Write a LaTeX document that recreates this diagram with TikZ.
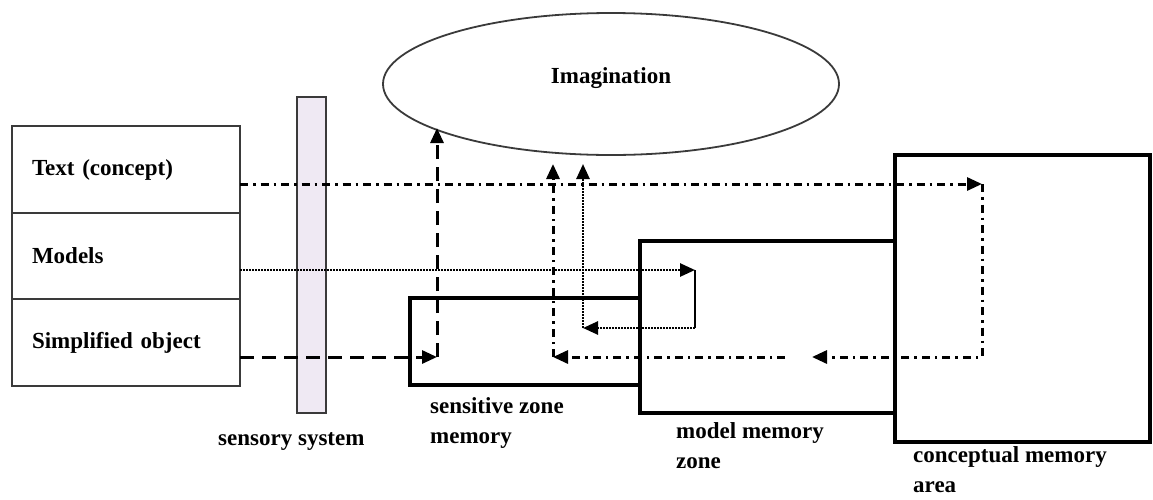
\documentclass[tikz,border=0pt]{standalone}
\usepackage{fontspec}
\setmainfont{Liberation Serif}
\usepackage{xcolor}
\usepackage{tikz}
\usetikzlibrary{shapes.geometric, arrows.meta, positioning}

\definecolor{barfill}{HTML}{EFE9F3}
\definecolor{edgegray}{HTML}{3A3A3A}

\begin{document}
\begin{tikzpicture}[
    x=1pt, y=-1pt,
    >={Triangle[length=15pt,width=13pt]},
    every node/.style={font=\bfseries\fontsize{23}{30}\selectfont},
    rowbox/.style={draw=edgegray, line width=2pt, outer sep=0pt, minimum width=228pt, minimum height=86.5pt, text width=188pt, inner xsep=20pt, align=left},
    zonebox/.style={draw, line width=3.2pt, anchor=north west, outer sep=0pt, inner sep=0pt},
    caption/.style={anchor=base west, align=left, inner sep=0pt},
    conceptline/.style={line width=3pt, dash pattern=on 8pt off 5pt on 2.5pt off 5pt},
    modelline/.style={line width=2.6pt, dash pattern=on 1.8pt off 1.2pt},
    objectline/.style={line width=3pt, dash pattern=on 14pt off 8pt}
  ]
    \useasboundingbox (0,0) rectangle (1153,499);

    % Input column - stacked
    \node[rowbox] (concept) at (126,169.5) {Text (concept)};
    \node[rowbox, below=0pt of concept] (models) {Models};
    \node[rowbox, below=0pt of models] (object) {Simplified object};

    % Sensory bar
    \node[draw=edgegray, fill=barfill, line width=2pt, minimum width=29pt, minimum height=316pt, inner sep=0pt] (sensory) at (311.5,255) {};
    \node[caption] (sensorylabel) at (218,445) {sensory system};

    % Imagination
    \node[ellipse, draw=edgegray, line width=1.8pt, minimum width=456pt, minimum height=142pt, inner sep=0pt,
          label={[yshift=6pt]center:Imagination}] (imagination) at (611,84) {};

    % Memory zones
    \node[zonebox, minimum width=230pt, minimum height=87pt] (sensitive) at (410,298) {};
    \node[zonebox, minimum width=255pt, minimum height=172pt] (modelzone) at (640,241) {};
    \node[zonebox, minimum width=255pt, minimum height=287pt] (conceptzone) at (895,155) {};

    \node[caption] (sensitivelabel) at (430,443) {sensitive zone\\memory};
    \node[caption] (modellabel) at (676,468) {model memory\\zone};
    \node[caption] (conceptlabel) at (913,492) {conceptual memory\\area};

    % Turning points
    \coordinate (cturn) at (982,184);
    \coordinate (cdown) at (982,357);
    \coordinate (cback) at (812,357);
    \coordinate (cgap) at (785,357);
    \coordinate (cleft) at (553,357);
    \coordinate (cup) at (553,164);
    \coordinate (mturn) at (695,270);
    \coordinate (mdown) at (695,328);
    \coordinate (mleft) at (583,328);
    \coordinate (mup) at (583,164);
    \coordinate (oturn) at (437,357);
    \coordinate (oup) at (437,128);

    % Text (concept) - dash dot
    \draw[conceptline, ->] (concept.east |- cturn) -- (cturn);
    \draw[conceptline, ->] (cturn) -- (cdown) -- (cback);
    \draw[conceptline, ->] (cgap) -- (cleft);
    \draw[conceptline, ->] (cleft) -- (cup);

    % Models - dotted
    \draw[modelline, ->] (models.east |- mturn) -- (mturn);
    \draw[line width=1.6pt] (mturn) -- (mdown);
    \draw[modelline, ->] (mdown) -- (mleft);
    \draw[modelline, ->] (mleft) -- (mup);

    % Simplified object - dashed
    \draw[objectline, ->] (object.east |- oturn) -- (oturn);
    \draw[objectline, ->] (oturn) -- (oup);

\end{tikzpicture}
\end{document}
